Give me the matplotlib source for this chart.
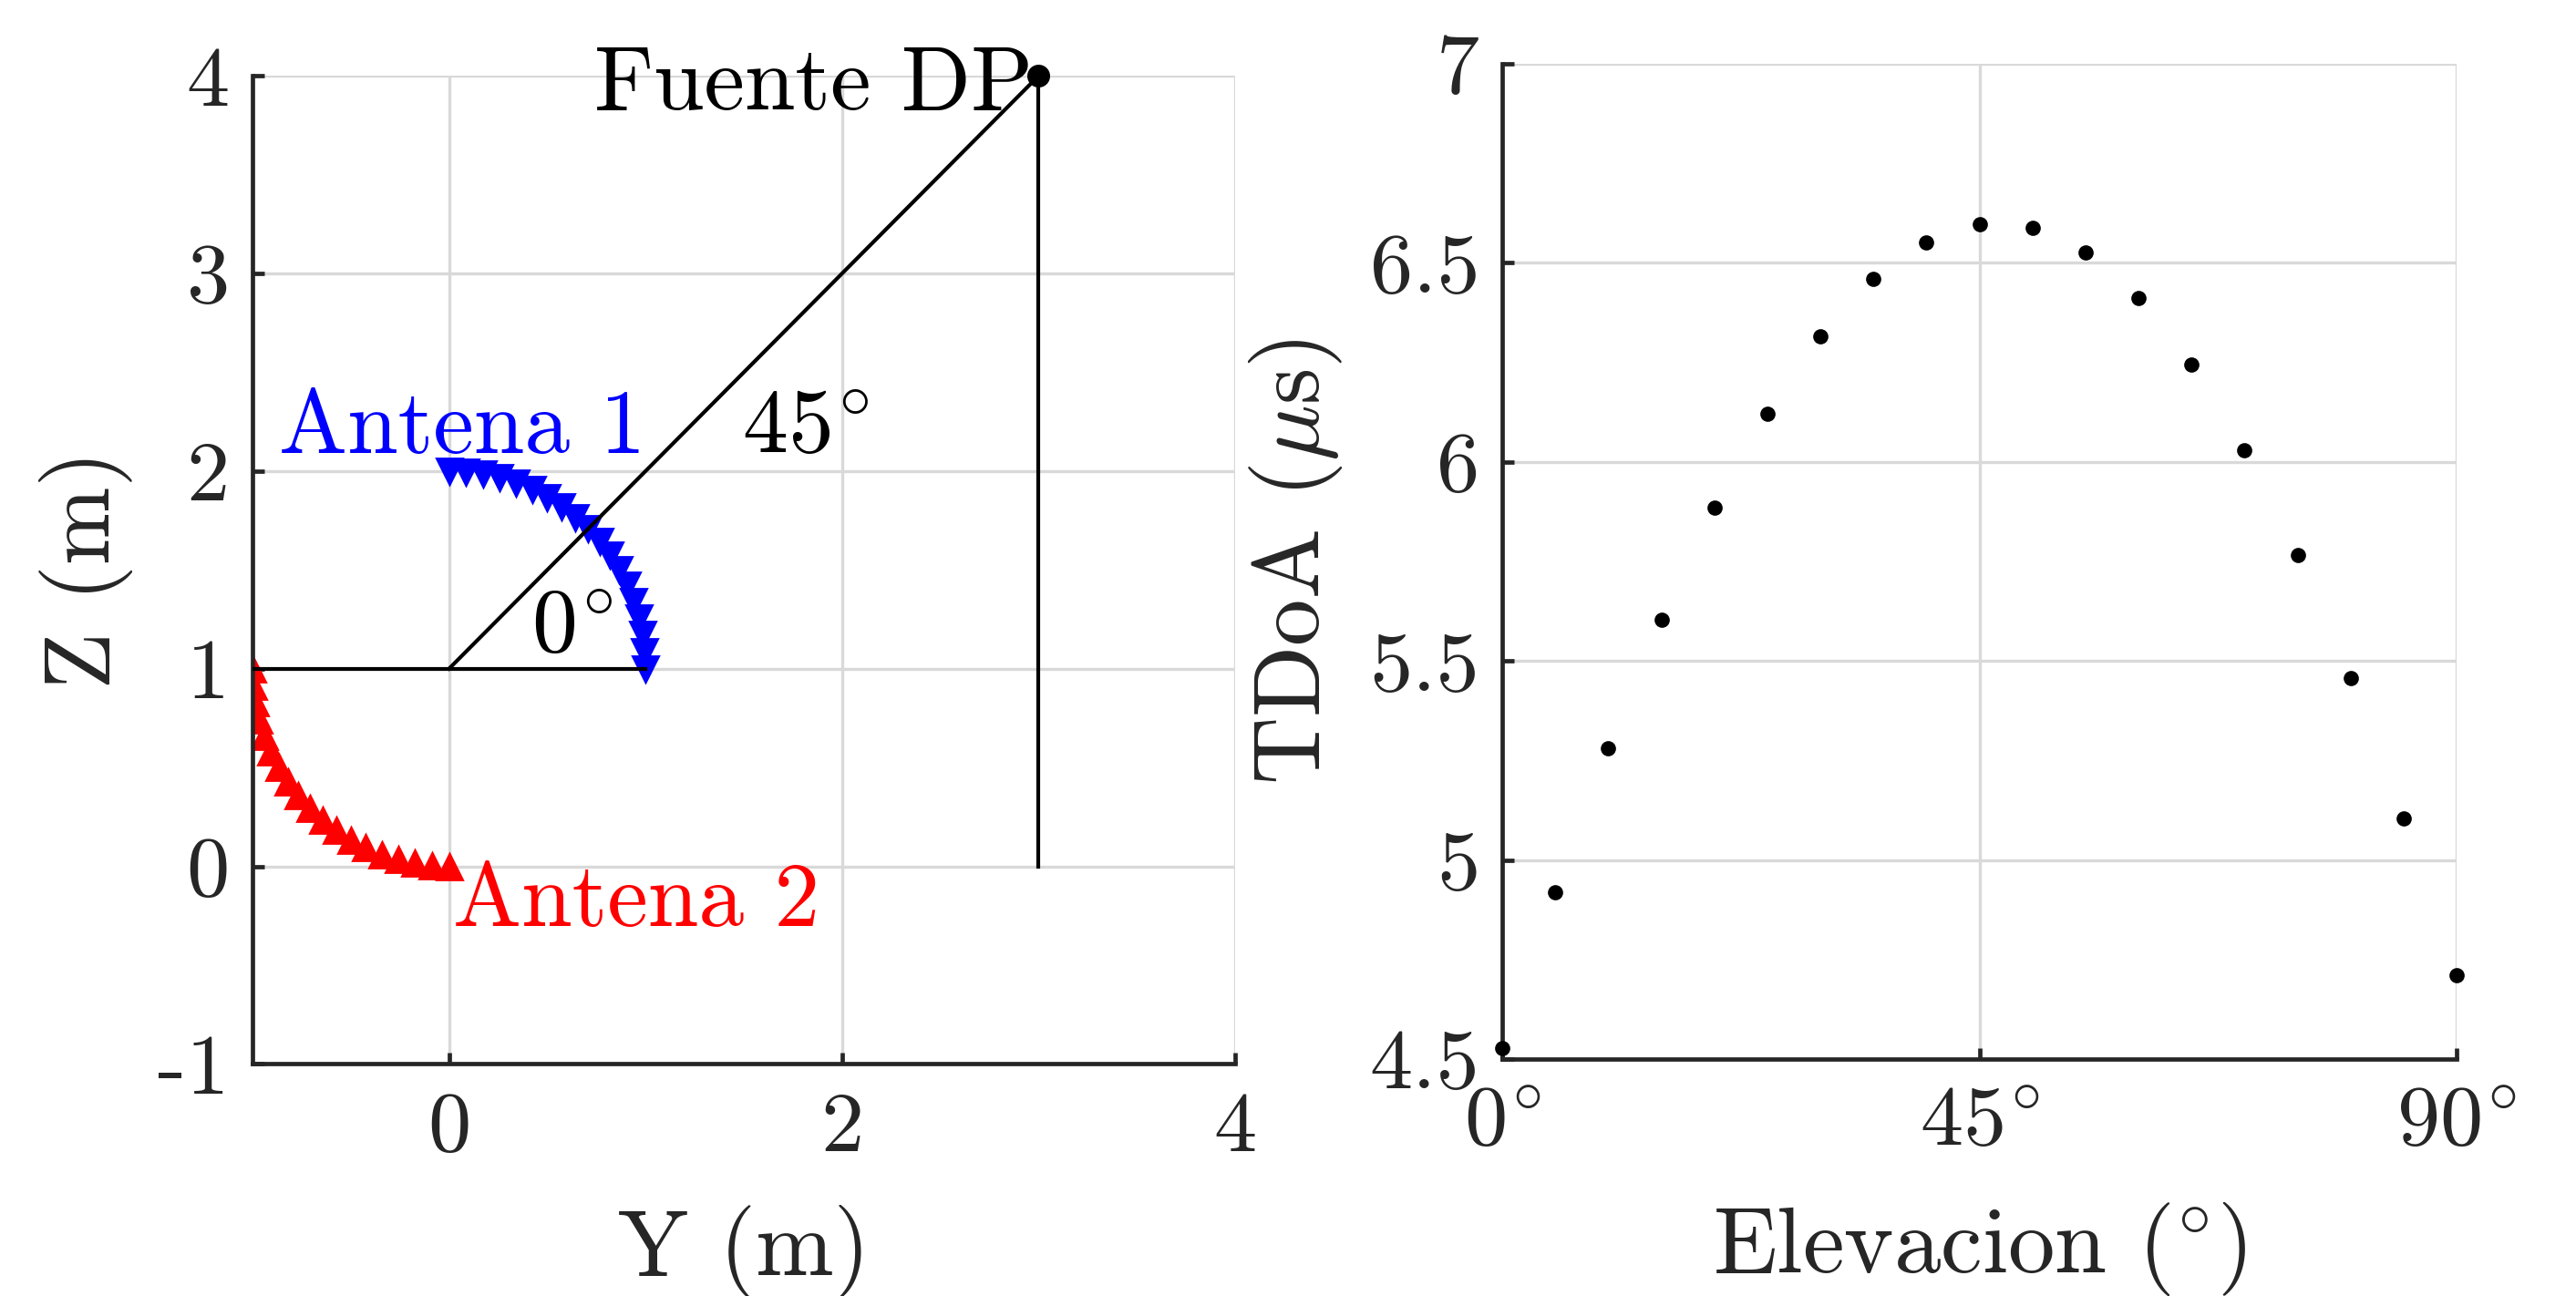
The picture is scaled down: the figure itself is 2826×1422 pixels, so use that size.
import matplotlib
matplotlib.use("Agg")
import matplotlib.pyplot as plt

plt.rcParams["font.family"] = "cmr10"
plt.rcParams["mathtext.fontset"] = "cm"
plt.rcParams["axes.unicode_minus"] = False
plt.rcParams["axes.formatter.use_mathtext"] = True

# antenna positions (Y, Z) in metres, one per elevation step
ant1_y = [1.000, 0.996, 0.985, 0.966, 0.940, 0.906, 0.866, 0.819, 0.766, 0.707,
          0.643, 0.574, 0.500, 0.423, 0.342, 0.259, 0.174, 0.087, 0.000]
ant1_z = [1.000, 1.087, 1.174, 1.259, 1.342, 1.423, 1.500, 1.574, 1.643, 1.707,
          1.766, 1.819, 1.866, 1.906, 1.940, 1.966, 1.985, 1.996, 2.000]
ant2_y = [-1.000, -0.996, -0.985, -0.966, -0.940, -0.906, -0.866, -0.819, -0.766, -0.707,
          -0.643, -0.574, -0.500, -0.423, -0.342, -0.259, -0.174, -0.087, 0.000]
ant2_z = [1.000, 0.913, 0.826, 0.741, 0.658, 0.577, 0.500, 0.426, 0.357, 0.293,
          0.234, 0.181, 0.134, 0.094, 0.060, 0.034, 0.015, 0.004, 0.000]
source_y, source_z = 3.0, 4.0
array_center = (0.0, 1.0)

# TDoA vs elevation
elevation = [0, 5, 10, 15, 20, 25, 30, 35, 40, 45, 50, 55, 60, 65, 70, 75, 80, 85, 90]
tdoa_us = [4.527, 4.920, 5.281, 5.603, 5.884, 6.122, 6.315, 6.459, 6.552, 6.596,
           6.588, 6.525, 6.411, 6.244, 6.030, 5.766, 5.458, 5.104, 4.710]

left_xticks = [0, 2, 4]
left_yticks = [-1, 0, 1, 2, 3, 4]
right_xticks = [0, 45, 90]
right_xlabels = [r"$0^{\!\circ}$", r"$45^{\!\circ}$", r"$90^{\!\circ}$"]
right_yticks = [4.5, 5, 5.5, 6, 6.5, 7]
right_ylabels = ["4.5", "5", "5.5", "6", "6.5", "7"]

AX_COLOR = "#262626"
GRID_COLOR = "#d9d9d9"
TICK_FS = 34
LABEL_FS = 37
TEXT_FS = 36
LW = 1.5


def style_axes(ax):
    ax.spines["top"].set_visible(False)
    ax.spines["right"].set_visible(False)
    for side in ("left", "bottom"):
        ax.spines[side].set_linewidth(1.7)
        ax.spines[side].set_color(AX_COLOR)
    ax.tick_params(direction="in", length=4.5, width=1.7, colors=AX_COLOR,
                   labelsize=TICK_FS, pad=9)
    ax.grid(True, color=GRID_COLOR, linewidth=1.2)
    ax.set_axisbelow(True)


fig = plt.figure(figsize=(14.13, 7.11), dpi=200)

# left: geometry
ax1 = fig.add_axes([0.098, 0.179, 0.3815, 0.7625])
style_axes(ax1)
ax1.plot(ant1_y, ant1_z, "v", color="blue", markersize=10, zorder=2)
ax1.plot(ant2_y, ant2_z, "^", color="red", markersize=10, zorder=2)
ax1.plot([-1, 1], [array_center[1], array_center[1]], color="black", linewidth=LW, zorder=3)
ax1.plot([array_center[0], source_y], [array_center[1], source_z], color="black", linewidth=LW, zorder=3)
ax1.plot([source_y, source_y], [0, source_z], color="black", linewidth=LW, zorder=3)
ax1.plot([source_y], [source_z], "o", color="black", markersize=8, zorder=4, clip_on=False)

ax1.text(2.97, 3.83, "Fuente DP", ha="right", va="baseline", fontsize=TEXT_FS, color="black")
ax1.text(1.0, 2.09, "Antena 1", ha="right", va="baseline", fontsize=TEXT_FS, color="blue")
ax1.text(0.02, -0.30, "Antena 2", ha="left", va="baseline", fontsize=TEXT_FS, color="red")
ax1.text(1.49, 2.09, r"$45^{\!\circ}$", ha="left", va="baseline", fontsize=TEXT_FS, color="black")
ax1.text(0.42, 1.08, r"$0^{\!\circ}$", ha="left", va="baseline", fontsize=TEXT_FS, color="black")

ax1.set_xlim(-1, 4)
ax1.set_ylim(-1, 4)
ax1.set_xticks(left_xticks)
ax1.set_xticklabels([str(v) for v in left_xticks])
ax1.set_yticks(left_yticks)
ax1.set_yticklabels([str(v) for v in left_yticks])
ax1.tick_params(axis="x", pad=11)
ax1.set_xlabel("Y (m)", fontsize=LABEL_FS, color=AX_COLOR, labelpad=15)
ax1.set_ylabel("Z (m)", fontsize=LABEL_FS, color=AX_COLOR, labelpad=10)

# right: TDoA vs elevation
ax2 = fig.add_axes([0.5832, 0.1828, 0.3705, 0.768])
style_axes(ax2)
ax2.plot(elevation, tdoa_us, ".", color="black", markersize=10, clip_on=False, zorder=3)
ax2.set_xlim(0, 90)
ax2.set_ylim(4.5, 7)
ax2.set_xticks(right_xticks)
ax2.set_xticklabels(right_xlabels)
ax2.set_yticks(right_yticks)
ax2.set_yticklabels(right_ylabels)
ax2.tick_params(axis="x", pad=11)
ax2.set_xlabel(r"Elevacion ($^{\circ}$)", fontsize=LABEL_FS, color=AX_COLOR, labelpad=15)
ax2.set_ylabel(r"TDoA ($\mu$s)", fontsize=LABEL_FS, color=AX_COLOR, labelpad=10)

fig.savefig("out.png", dpi=200, facecolor="white")
